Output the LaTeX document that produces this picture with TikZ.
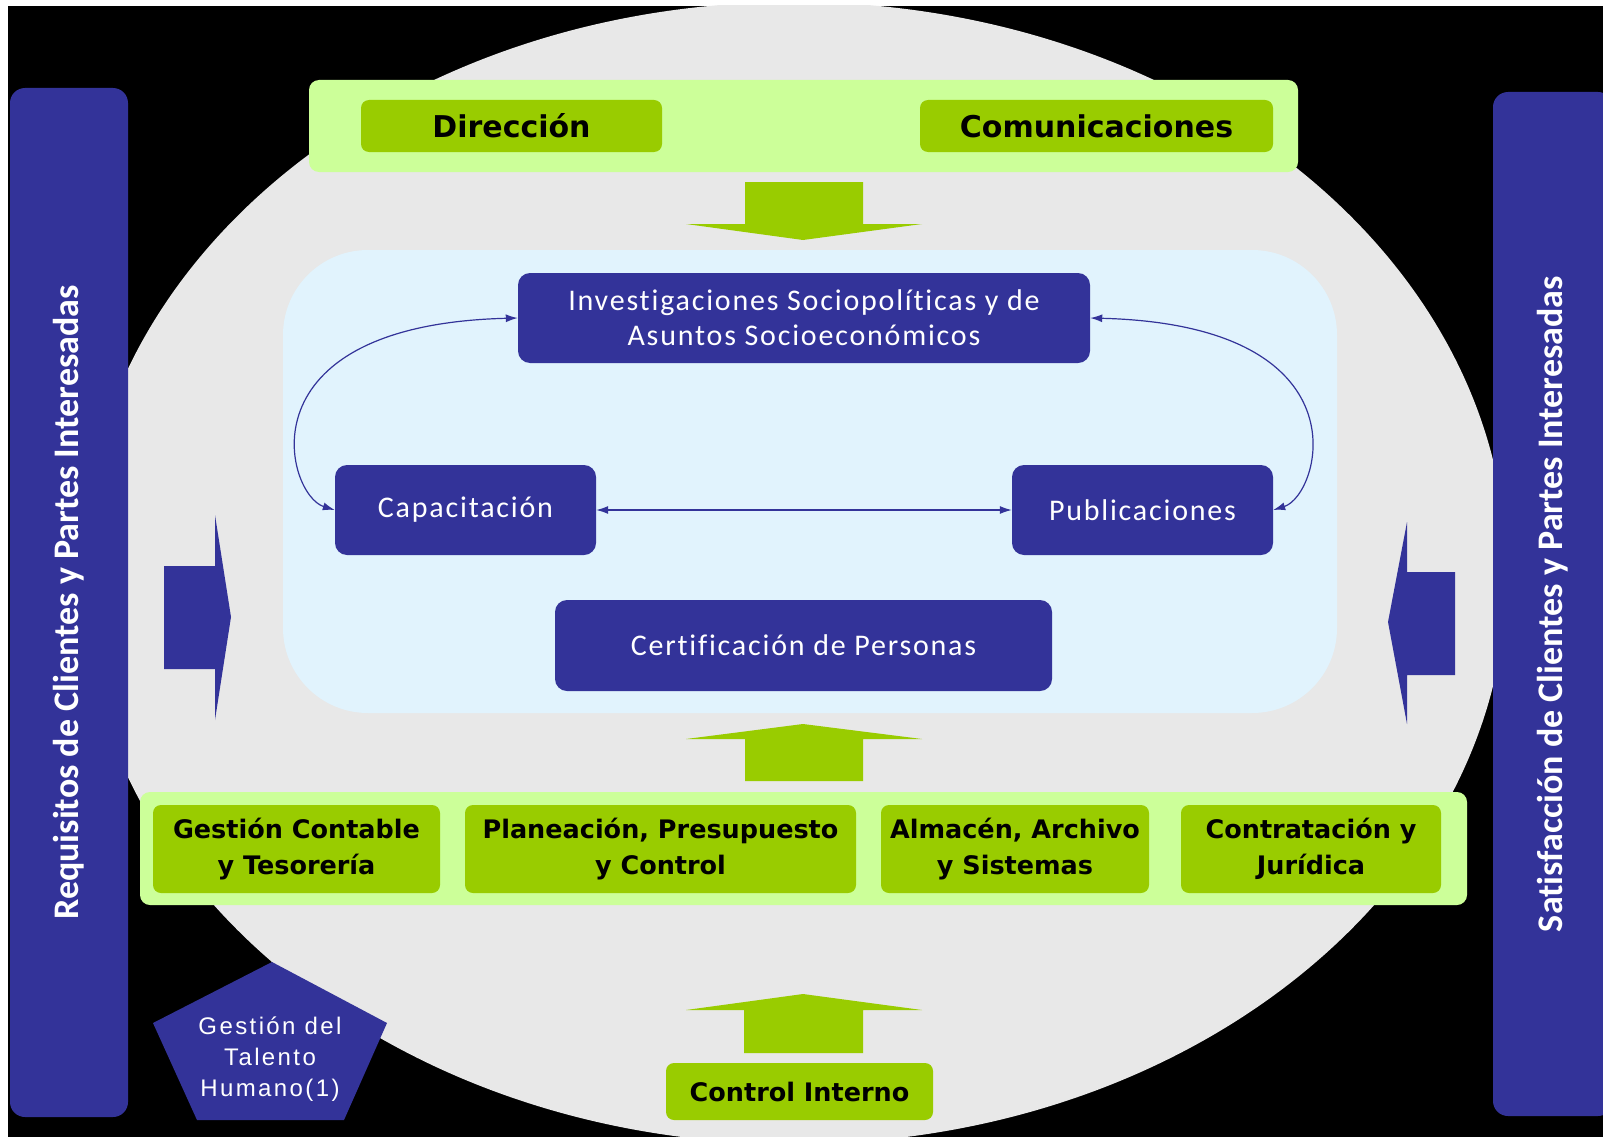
\documentclass[tikz,border=0pt]{standalone}
\usepackage{fontspec}
\setmainfont{DejaVu Sans}
\newfontfamily\unitfont[LetterSpace=6,Ligatures=NoCommon]{Carlito}
\newfontfamily\barfont[Ligatures=NoCommon]{Carlito}
\newfontfamily\talentfont[LetterSpace=10]{Liberation Sans}
\usetikzlibrary{shapes.geometric, arrows, arrows.meta}
\definecolor{navy}{HTML}{333399}
\definecolor{palegreen}{HTML}{CCFF99}
\definecolor{leafgreen}{HTML}{99CC00}
\definecolor{skyblue}{HTML}{E1F3FD}
\definecolor{lightgray}{HTML}{E8E8E8}
\tikzstyle{band} = [rectangle, rounded corners=10pt, inner sep=0pt, fill=palegreen]
\tikzstyle{support} = [rectangle, rounded corners=8pt, inner sep=0pt, align=center, fill=leafgreen, font=\fontsize{25.5}{36}\selectfont\bfseries]
\tikzstyle{header} = [support, font=\fontsize{30}{36}\selectfont\bfseries]
\tikzstyle{unit} = [rectangle, rounded corners=12pt, inner sep=0pt, align=center, fill=navy, text=white, font=\unitfont\fontsize{30}{35}\selectfont]
\tikzstyle{sidebar} = [rectangle, rounded corners=15pt, inner sep=0pt, fill=navy, text=white, font=\barfont\bfseries\fontsize{36}{42}\selectfont]
\tikzstyle{talent} = [align=center, text=white, font=\talentfont\fontsize{24}{31}\selectfont]
\tikzstyle{greenarrow} = [fill=leafgreen]
\tikzstyle{bluearrow} = [fill=navy]
\tikzstyle{arrow} = [draw=navy, line width=1.2pt, <->, >={Latex[length=12pt,width=8pt]}]

\begin{document}
\begin{tikzpicture}[x=1pt,y=-1pt]
            \useasboundingbox (0,0) rectangle (1603,1137);
            \fill [black] (8,6) rectangle (1603,1137);
            \begin{scope}
                \clip (8,6) rectangle (1603,1137);
                \fill [lightgray] (794,573) ellipse [x radius=713, y radius=571];
                \node [sidebar, rotate=90, minimum width=1024pt, minimum height=120pt] at (1553,604) (satisfaccion) {Satisfacción de Clientes y Partes Interesadas};
            \end{scope}
            \node [sidebar, rotate=90, minimum width=1029pt, minimum height=118pt] at (69,602.5) (requisitos) {Requisitos de Clientes y Partes Interesadas};

            % estrategicos
            \node [band, minimum width=989pt, minimum height=92pt] at (803.5,126) (top) {};
            \node [header, minimum width=301pt, minimum height=52pt] at (511.5,126) (direccion) {Dirección};
            \node [header, minimum width=353pt, minimum height=52pt] at (1096.5,126) (comunicaciones) {Comunicaciones};
            \fill [greenarrow] (745,182) -- (863,182) -- (863,224) -- (922,224) -- (803,240) -- (686,224) -- (745,224) -- cycle;

            % misionales
            \node [rectangle, rounded corners=85pt, fill=skyblue, minimum width=1054pt, minimum height=463pt] at (810,481.5) (core) {};
            \node [unit, minimum width=572pt, minimum height=90pt] at (804,318) (investigacion) {Investigaciones Sociopolíticas y de\\Asuntos Socioeconómicos};
            \node [unit, minimum width=261pt, minimum height=90pt] at (465.5,510) (capacitacion) {Capacitación};
            \node [unit, minimum width=261pt, minimum height=90pt] at (1142.5,510) (publicaciones) {Publicaciones};
            \node [unit, minimum width=497pt, minimum height=91pt] at (803.5,645.5) (certificacion) {Certificación de Personas};
            \draw [arrow] (investigacion.west) .. controls (238,325) and (286,495) .. (capacitacion.west);
            \draw [arrow] (investigacion.east) .. controls (1369,325) and (1321,495) .. (publicaciones.east);
            \draw [arrow] (capacitacion) -- (publicaciones);

            \fill [bluearrow] (164,566) -- (215,566) -- (215,515) -- (231,617) -- (215,720) -- (215,669) -- (164,669) -- cycle;
            \fill [bluearrow] (1455,572) -- (1407,572) -- (1407,522) -- (1388,622) -- (1407,724) -- (1407,675) -- (1455,675) -- cycle;
            \fill [greenarrow] (745,781) -- (863,781) -- (863,739) -- (922,739) -- (803,724) -- (686,739) -- (745,739) -- cycle;

            % apoyo
            \node [band, minimum width=1327pt, minimum height=113pt] at (803.5,848.5) (bottom) {};
            \node [support, minimum width=287pt, minimum height=88pt] at (296.5,849) (contable) {Gestión Contable\\y Tesorería};
            \node [support, minimum width=391pt, minimum height=88pt] at (660.5,849) (planeacion) {Planeación, Presupuesto\\y Control};
            \node [support, minimum width=268pt, minimum height=88pt] at (1015,849) (almacen) {Almacén, Archivo\\y Sistemas};
            \node [support, minimum width=260pt, minimum height=88pt] at (1311,849) (contratacion) {Contratación y\\Jurídica};

            \fill [greenarrow] (744,1053) -- (863,1053) -- (863,1010) -- (922,1010) -- (803,994) -- (686,1010) -- (744,1010) -- cycle;
            \node [support, minimum width=267pt, minimum height=57pt] at (799.5,1091.5) (control) {Control Interno};

            \fill [navy] (272,962) -- (387,1023) -- (344,1120) -- (197,1120) -- (153,1023) -- cycle;
            \node [talent] at (270,1059) (talento) {Gestión del\\Talento\\Humano(1)};
\end{tikzpicture}
\end{document}
